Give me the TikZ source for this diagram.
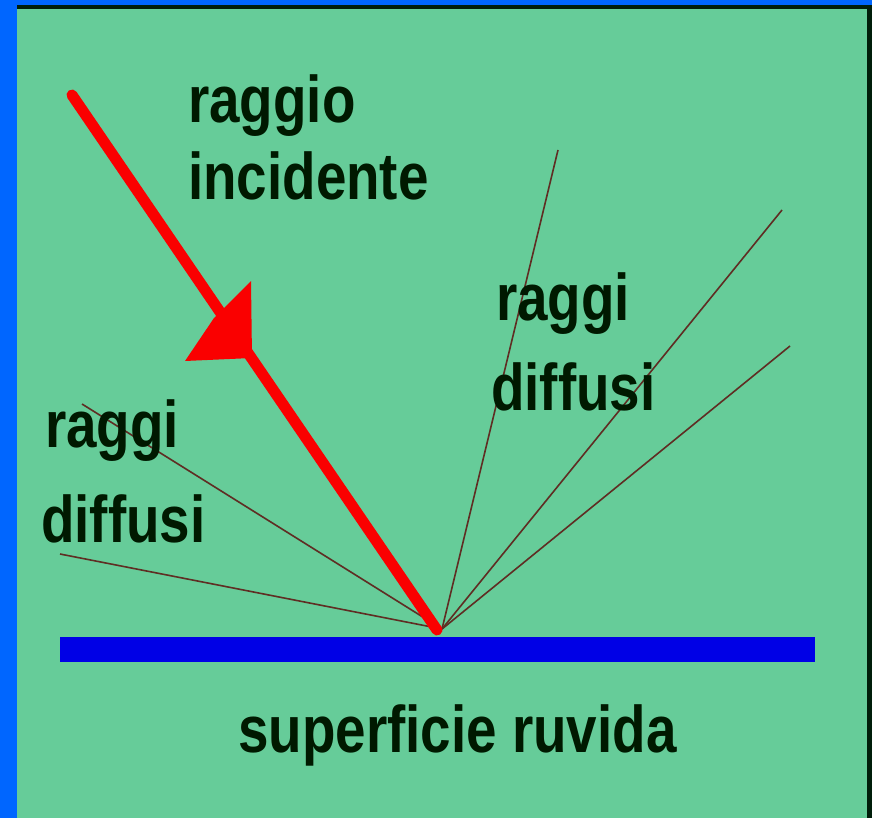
\documentclass[tikz,border=0pt]{standalone}
\usepackage{fontspec}
\setmainfont{Liberation Sans}
\usepackage{graphicx}
\definecolor{bg}{RGB}{102,204,153}
\definecolor{framecol}{RGB}{0,102,255}
\definecolor{darkedge}{RGB}{0,30,10}
\definecolor{barcol}{RGB}{0,0,230}
\definecolor{ink}{RGB}{0,25,0}
\definecolor{raycol}{RGB}{95,45,35}
\definecolor{incol}{RGB}{250,0,0}
\newcommand{\lbl}[1]{\scalebox{0.83}[1]{\fontsize{66}{70}\selectfont\bfseries #1}}
\begin{document}
\begin{tikzpicture}[x=1pt,y=-1pt,
  lab/.style={anchor=base west, inner sep=0pt, text=ink},
  diffray/.style={draw=raycol, line width=1.6pt},
  incray/.style={draw=incol, line width=11pt, line cap=round}]
\useasboundingbox (0,0) rectangle (872,818);
% frame and background
\fill[framecol] (0,0) rectangle (872,818);
\fill[darkedge] (17,5) rectangle (872,818);
\fill[bg] (17,9) rectangle (867,818);
% points
\coordinate (O) at (442,629);
\coordinate (S) at (72,95);
\coordinate (P) at (437,630);
\coordinate (R1) at (558,150);
\coordinate (R2) at (782,210);
\coordinate (R3) at (790,346);
\coordinate (L1) at (82,404);
\coordinate (L2) at (60,554);
% diffuse rays
\draw[diffray] (O) -- (R1);
\draw[diffray] (O) -- (R2);
\draw[diffray] (O) -- (R3);
\draw[diffray] (O) -- (L1);
\draw[diffray] (O) -- (L2);
% rough surface
\fill[barcol] (60,637) rectangle (815,662);
% incident ray
\draw[incray] (S) -- (P);
\fill[incol] (251,281) -- (252,358) -- (185,361) -- (214,318) -- cycle;
% labels
\node[lab] (t1) at (188,123) {\lbl{raggio}};
\node[lab] (t2) at (188,200) {\lbl{incidente}};
\node[lab] (t3) at (496,320) {\lbl{raggi}};
\node[lab] (t4) at (491,410) {\lbl{diffusi}};
\node[lab] (t5) at (45,447) {\lbl{raggi}};
\node[lab] (t6) at (41,542) {\lbl{diffusi}};
\node[lab] (t7) at (238,752) {\lbl{superficie ruvida}};
\end{tikzpicture}
\end{document}
